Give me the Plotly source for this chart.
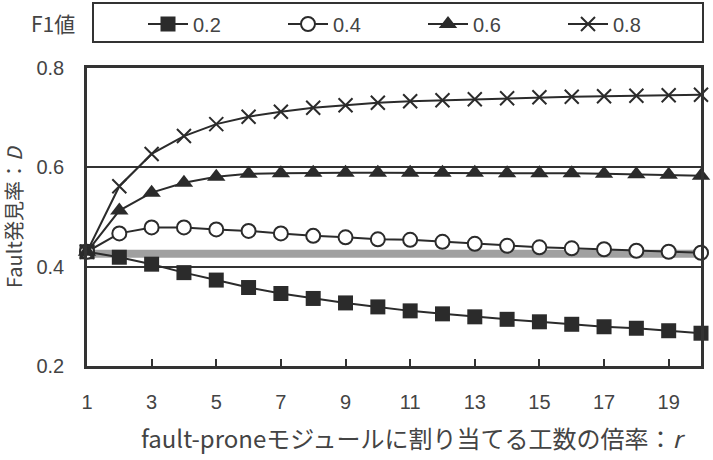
import plotly.graph_objects as go

r = list(range(1, 21))
series_names = ["0.2", "0.4", "0.6", "0.8"]
d02 = [0.430, 0.419, 0.405, 0.388, 0.373, 0.358, 0.346, 0.336, 0.327, 0.319,
       0.311, 0.305, 0.299, 0.294, 0.289, 0.284, 0.279, 0.276, 0.271, 0.266]
d04 = [0.430, 0.467, 0.479, 0.479, 0.475, 0.472, 0.467, 0.462, 0.459, 0.455,
       0.454, 0.450, 0.446, 0.442, 0.439, 0.437, 0.435, 0.432, 0.430, 0.428]
d06 = [0.430, 0.513, 0.549, 0.569, 0.581, 0.587, 0.588, 0.589, 0.589, 0.589,
       0.589, 0.589, 0.589, 0.588, 0.588, 0.588, 0.587, 0.586, 0.585, 0.583]
d08 = [0.430, 0.562, 0.627, 0.663, 0.687, 0.702, 0.712, 0.720, 0.725, 0.730,
       0.733, 0.735, 0.737, 0.739, 0.741, 0.742, 0.743, 0.744, 0.745, 0.746]
baseline = [0.426] * len(r)
x_ticks = [1, 3, 5, 7, 9, 11, 13, 15, 17, 19]
y_ticks = [0.2, 0.4, 0.6, 0.8]

DARK = "#2b2b2b"
TXT = "#444444"
LAT = "Liberation Sans, Arial, sans-serif"
CJK = "Noto Sans CJK JP, sans-serif"

fig = go.Figure()
fig.add_trace(go.Scatter(x=r, y=baseline, mode="lines", showlegend=False,
                         line=dict(color="#a0a0a0", width=8), hoverinfo="skip"))

styles = [
    dict(symbol="square", size=15, color=DARK, line=dict(width=0)),
    dict(symbol="circle", size=14, color="white", line=dict(color=DARK, width=2)),
    dict(symbol="triangle-up", size=16, color=DARK, line=dict(width=0)),
    dict(symbol="x-thin", size=14, color=DARK, line=dict(color=DARK, width=2)),
]
for name, vals, st in zip(series_names, [d02, d04, d06, d08], styles):
    fig.add_trace(go.Scatter(x=r, y=vals, mode="lines+markers", name=name,
                             line=dict(color=DARK, width=2), marker=st,
                             cliponaxis=False))

L, R, T, B = 87, 12, 68, 94
W, H = 713, 460
pw, ph = W - L - R, H - T - B

def px(xp):
    return (xp - L) / pw

def py(yp):
    return (H - B - yp) / ph

fig.add_shape(type="rect", xref="paper", yref="paper",
              x0=px(93), x1=px(703), y0=py(42), y1=py(3),
              line=dict(color="#333333", width=2))

fig.add_annotation(text="F1値", xref="paper", yref="paper", x=px(53), y=py(23),
                   xanchor="center", yanchor="middle",
                   showarrow=False, font=dict(family=CJK, size=21, color=TXT))
fig.add_annotation(text="fault-proneモジュールに割り当てる工数の倍率：<i>r</i>",
                   xref="paper", yref="paper", x=px(413), y=py(437),
                   xanchor="center", yanchor="middle",
                   showarrow=False, font=dict(family=CJK, size=24, color=TXT))
fig.add_annotation(text="Fault発見率：<i>D</i>", xref="paper", yref="paper",
                   x=px(13), y=py(217), textangle=-90,
                   xanchor="center", yanchor="middle",
                   showarrow=False, font=dict(family=CJK, size=20, color=TXT))

fig.update_layout(
    width=W, height=H,
    margin=dict(l=L, r=R, t=T, b=B, pad=0, autoexpand=False),
    paper_bgcolor="white", plot_bgcolor="white",
    showlegend=True,
    legend=dict(orientation="h", xref="container", yref="container",
                x=143 / W, xanchor="left", y=1 - 24 / H, yanchor="middle",
                bgcolor="rgba(0,0,0,0)", borderwidth=0,
                font=dict(family=LAT, size=20, color=TXT),
                entrywidth=85, entrywidthmode="pixels", itemwidth=40),
    xaxis=dict(range=[1, 20], tickvals=x_ticks, ticktext=[str(v) for v in x_ticks],
               ticks="inside", ticklen=7, tickwidth=2, tickcolor="#333333",
               showgrid=False, zeroline=False,
               showline=True, linecolor="#333333", linewidth=2.5, mirror=True,
               tickfont=dict(family=LAT, size=20, color=TXT),
               ticklabelstandoff=16),
    yaxis=dict(range=[0.2, 0.8], tickvals=y_ticks, ticktext=["0.2", "0.4", "0.6", "0.8"],
               ticks="", showgrid=True, gridcolor="#333333", gridwidth=2,
               zeroline=False,
               showline=True, linecolor="#333333", linewidth=2.5, mirror=True,
               tickfont=dict(family=LAT, size=20, color=TXT),
               ticklabelstandoff=16),
)

fig.write_html("out.html")
